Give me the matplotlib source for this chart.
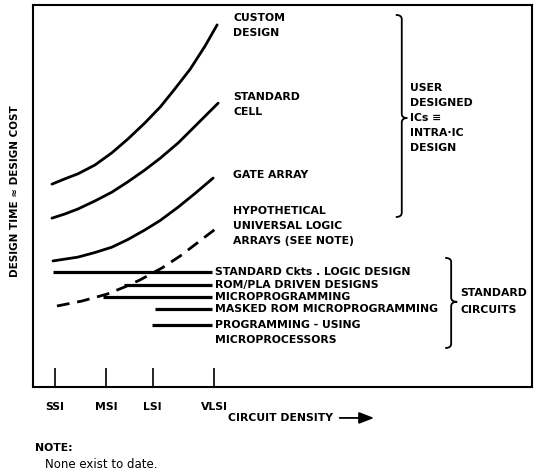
import matplotlib
matplotlib.use("Agg")
import matplotlib.pyplot as plt
from matplotlib.path import Path
from matplotlib.patches import PathPatch

# ---- data (x: circuit density, arbitrary 0-100; y: design time/cost, arbitrary 0-100)
density_ticks = [4.4, 14.6, 24.0, 36.3]
density_labels = ["SSI", "MSI", "LSI", "VLSI"]

custom_x = [3.8, 6.4, 9.0, 12.4, 15.8, 19.0, 22.4, 25.5, 28.1, 31.5, 34.5, 36.9]
custom_y = [53.1, 54.5, 55.8, 58.1, 61.3, 64.9, 69.1, 73.3, 77.5, 83.2, 89.3, 94.8]

stdcell_x = [3.8, 6.4, 9.0, 12.4, 15.8, 19.0, 22.4, 25.5, 29.1, 33.1, 37.1]
stdcell_y = [44.2, 45.3, 46.6, 48.7, 51.0, 53.7, 56.8, 59.9, 63.9, 69.1, 74.3]

gate_x = [4.0, 9.0, 12.4, 15.8, 19.0, 22.4, 25.5, 29.1, 32.5, 36.1]
gate_y = [33.0, 34.0, 35.2, 36.6, 38.6, 41.1, 43.6, 47.1, 50.7, 54.7]

hypo_x = [4.8, 9.8, 14.8, 18.4, 21.4, 25.9, 29.5, 32.9, 37.1]
hypo_y = [21.2, 22.5, 24.3, 26.2, 28.0, 31.2, 34.3, 37.7, 41.9]

std_names = ["STANDARD Ckts . LOGIC DESIGN", "ROM/PLA DRIVEN DESIGNS",
             "MICROPROGRAMMING", "MASKED ROM MICROPROGRAMMING",
             "PROGRAMMING - USING\nMICROPROCESSORS"]
std_start = [4.0, 18.2, 14.0, 24.4, 23.8]
std_end = [35.9, 35.9, 35.9, 35.9, 35.9]
std_level = [30.1, 26.7, 23.6, 20.4, 16.2]

plt.rcParams['font.family'] = ['DejaVu Sans']
FS = 7.8

fig = plt.figure(figsize=(5.38, 4.71), dpi=100)
ax = fig.add_axes([33/538, 1-387/471, 499/538, 382/471])
ax.set_xlim(0, 100)
ax.set_ylim(0, 100)
for s in ax.spines.values():
    s.set_linewidth(1.5)

lw = 2.0
ax.plot(custom_x, custom_y, color='black', lw=lw, solid_capstyle='round', solid_joinstyle='round')
ax.plot(stdcell_x, stdcell_y, color='black', lw=lw, solid_capstyle='round', solid_joinstyle='round')
ax.plot(gate_x, gate_y, color='black', lw=lw, solid_capstyle='round', solid_joinstyle='round')
ax.plot(hypo_x, hypo_y, color='black', lw=lw, linestyle=(0, (4.6, 2.8)))

for x0, x1, yv in zip(std_start, std_end, std_level):
    ax.plot([x0, x1], [yv, yv], color='black', lw=2.3, solid_capstyle='butt')

tkw = dict(fontsize=FS, fontweight='bold', va='center', ha='left')
for name, yv in zip(std_names, std_level):
    lines = name.split("\n")
    for i, ln in enumerate(lines):
        ax.text(36.4, yv - i * 3.93, ln, **tkw)

def stacked(x, y, lines, step=3.93):
    for i, ln in enumerate(lines):
        ax.text(x, y - i * step, ln, **tkw)

stacked(40.1, 96.6, ["CUSTOM", "DESIGN"])
stacked(40.1, 75.9, ["STANDARD", "CELL"])
stacked(40.1, 55.5, ["GATE ARRAY"])
stacked(40.1, 46.1, ["HYPOTHETICAL", "UNIVERSAL LOGIC", "ARRAYS (SEE NOTE)"])
stacked(75.6, 78.3, ["USER", "DESIGNED", "ICs \u2261", "INTRA\u00b7IC", "DESIGN"])
stacked(85.6, 24.6, ["STANDARD", "CIRCUITS"], step=4.5)

def brace(x0, xv, xt, top, mid, bot, r=1.1):
    verts = [(x0, top), (xv, top), (xv, top - r),
             (xv, mid + r), (xv, mid), (xt, mid),
             (xv, mid), (xv, mid - r),
             (xv, bot + r), (xv, bot), (x0, bot)]
    codes = [Path.MOVETO, Path.CURVE3, Path.CURVE3,
             Path.LINETO, Path.CURVE3, Path.CURVE3,
             Path.CURVE3, Path.CURVE3,
             Path.LINETO, Path.CURVE3, Path.CURVE3]
    ax.add_patch(PathPatch(Path(verts, codes), fill=False, lw=1.3,
                           edgecolor='black'))

brace(72.7, 73.9, 75.0, 97.4, 70.4, 44.5)
brace(82.6, 83.8, 85.0, 33.8, 22.3, 10.2)

ax.set_xticks(density_ticks)
ax.set_xticklabels(density_labels, fontsize=FS, fontweight='bold')
ax.tick_params(axis='x', direction='in', length=13.7, width=1.2, pad=11)
ax.set_yticks([])

ax.text(-3.6, 51.3, "DESIGN TIME \u2248 DESIGN COST", rotation=90,
        fontsize=7.5, fontweight='bold', ha='center', va='center', clip_on=False)
ax.text(39.1, -8.1, "CIRCUIT DENSITY", fontsize=FS, fontweight='bold',
        ha='left', va='center', clip_on=False)
ax.annotate("", xy=(68.9, -8.1), xytext=(60.9, -8.1),
            arrowprops=dict(arrowstyle='-|>,head_length=0.9,head_width=0.35',
                            color='black', lw=1.3), annotation_clip=False)
ax.text(0.4, -16.0, "NOTE:", fontsize=FS, fontweight='bold', ha='left',
        va='center', clip_on=False)
ax.text(2.4, -20.4, "None exist to date.", fontsize=8.5, ha='left',
        va='center', clip_on=False)

fig.savefig("out.png", dpi=100)
